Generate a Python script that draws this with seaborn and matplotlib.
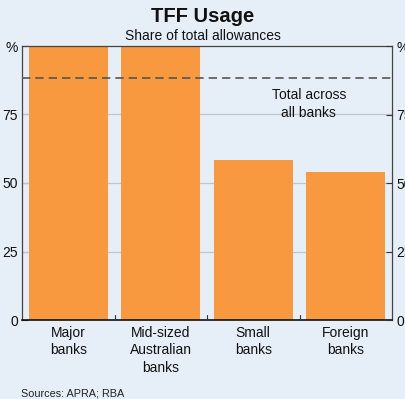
import matplotlib
matplotlib.use("Agg")
import matplotlib.pyplot as plt
import seaborn as sns
import pandas as pd

categories = ["Major\nbanks", "Mid-sized\nAustralian\nbanks", "Small\nbanks", "Foreign\nbanks"]
usage = [100, 100, 58.5, 54.0]
total_all = 88.3
yticks = [0, 25, 50, 75, 100]
ytick_labels = ["0", "25", "50", "75", "%"]

sns.set_theme(style="white")
plt.rcParams["font.family"] = ["Liberation Sans", "DejaVu Sans"]

bg = "#E6EFF8"
orange = "#F8983F"

fig = plt.figure(figsize=(4.06, 3.99), dpi=100, facecolor=bg)
ax = fig.add_axes([22/406, 1-320/399, 370/406, 274/399])
ax.set_facecolor(bg)

df = pd.DataFrame({"cat": categories, "val": usage})
sns.barplot(data=df, x="cat", y="val", color=orange, saturation=1, width=0.85,
            linewidth=0, edgecolor="none", ax=ax, zorder=2)

ax.set_ylim(0, 100)
ax.set_xlim(-0.5, 3.5)
for y in [25, 50, 75]:
    ax.axhline(y, color="#BFC6CE", lw=0.9, zorder=1)
ax.axhline(total_all, color="#555555", lw=1.2, ls=(0, (5, 3)), zorder=3)
ax.text(2.6, 84.5, "Total across\nall banks", ha="center", va="top", fontsize=10, color="#111111", linespacing=1.35, zorder=4)

ax.set_xlabel("")
ax.set_ylabel("")
ax.set_yticks(yticks)
ax.set_yticklabels(ytick_labels, fontsize=10)
ax.tick_params(axis="y", direction="in", length=4, width=0.8, color="#333333", pad=3, labelcolor="#111111")
ax.set_xticks([0, 1, 2, 3])
ax.set_xticklabels(categories, fontsize=10, linespacing=1.35, color="#111111")
ax.tick_params(axis="x", length=0, pad=4)
for x in [0.5, 1.5, 2.5]:
    ax.plot([x, x], [0, 1.8], color="#333333", lw=0.8, zorder=5, clip_on=False)

for s in ax.spines.values():
    s.set_visible(True)
    s.set_color("#444444")
    s.set_linewidth(0.9)
ax.spines["bottom"].set_color("#111111")
ax.spines["bottom"].set_linewidth(1.2)

ax2 = ax.twinx()
ax2.set_ylim(0, 100)
ax2.set_yticks(yticks)
ax2.set_yticklabels(ytick_labels, fontsize=10)
ax2.tick_params(axis="y", direction="in", length=4, width=0.8, color="#333333", pad=3, labelcolor="#111111")
for s in ax2.spines.values():
    s.set_visible(False)

fig.text(0.5, 1-17/399, "TFF Usage", ha="center", va="center", fontsize=14.5, fontweight="bold", color="#111111")
fig.text(0.5, 1-36/399, "Share of total allowances", ha="center", va="center", fontsize=10, color="#111111")
fig.text(21/406, 1-393/399, "Sources: APRA; RBA", ha="left", va="center", fontsize=7.8, color="#222222")

fig.savefig("out.png", dpi=100, facecolor=bg)
